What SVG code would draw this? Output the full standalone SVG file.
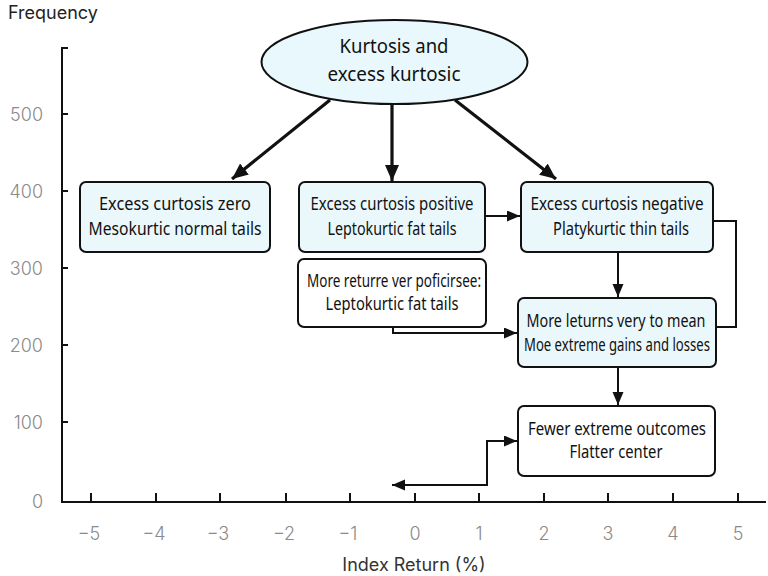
<svg xmlns="http://www.w3.org/2000/svg" width="768" height="576" viewBox="0 0 768 576">
<style>
.ax{stroke:#111;stroke-width:2;fill:none}
.tl{font-family:Inter,"Liberation Sans",sans-serif;font-size:18px;font-weight:300;fill:#8a8a8a}
.bx{stroke:#111;stroke-width:2}
.cy{fill:#eaf8fc}
.wh{fill:#ffffff}
.t{font-family:"Noto Sans","Open Sans","Liberation Sans",sans-serif;font-size:17.5px;fill:#111;text-anchor:middle}
.c1{stroke:#111;stroke-width:3.2;fill:none}
.c2{stroke:#111;stroke-width:2;fill:none}
</style>
<defs>
<marker id="ab" markerUnits="userSpaceOnUse" markerWidth="18" markerHeight="16" refX="16" refY="7" orient="auto">
<path d="M0,0 L16,7 L0,14 Z" fill="#111"/>
</marker>
<marker id="as" markerUnits="userSpaceOnUse" markerWidth="14" markerHeight="12" refX="13" refY="5.5" orient="auto-start-reverse">
<path d="M0,0 L13,5.5 L0,11 Z" fill="#111"/>
</marker>
</defs>
<rect width="768" height="576" fill="#ffffff"/>
<g id="axes">
<text x="8" y="19" style="font-family:Inter,'Liberation Sans',sans-serif;font-size:18px;fill:#222">Frequency</text>
<path class="ax" d="M68,48 H62 V502 H766"/>
<path class="ax" d="M62,114 h6 M62,191 h6 M62,268 h6 M62,345 h6 M62,422 h6"/>
<path class="ax" d="M91,502 v-9 M156,502 v-9 M220,502 v-9 M286,502 v-9 M350,502 v-9 M415,502 v-9 M479,502 v-9 M544,502 v-9 M608,502 v-9 M673,502 v-9 M738,502 v-9"/>
<g class="tl" text-anchor="end">
<text x="43" y="121">500</text>
<text x="43" y="198">400</text>
<text x="43" y="275">300</text>
<text x="43" y="352">200</text>
<text x="43" y="429">100</text>
<text x="43" y="508">0</text>
</g>
<g class="tl" text-anchor="middle">
<text x="89" y="540">−5</text>
<text x="154" y="540">−4</text>
<text x="218" y="540">−3</text>
<text x="284" y="540">−2</text>
<text x="348" y="540">−1</text>
<text x="415" y="540">0</text>
<text x="479" y="540">1</text>
<text x="544" y="540">2</text>
<text x="608" y="540">3</text>
<text x="673" y="540">4</text>
<text x="738" y="540">5</text>
</g>
<text x="414" y="571" text-anchor="middle" style="font-family:Inter,'Liberation Sans',sans-serif;font-size:18px;fill:#333">Index Return (%)</text>
</g>
<g id="connectors">
<line class="c1" x1="330" y1="100" x2="232" y2="179" marker-end="url(#ab)"/>
<line class="c1" x1="392" y1="104" x2="392" y2="181" marker-end="url(#ab)"/>
<line class="c1" x1="455" y1="100" x2="556" y2="179" marker-end="url(#ab)"/>
<line class="c2" x1="485" y1="216" x2="520" y2="216" marker-end="url(#as)"/>
<polyline class="c2" points="393,327 393,333 517,333" marker-end="url(#as)"/>
<line class="c2" x1="618" y1="252" x2="618" y2="297" marker-end="url(#as)"/>
<polyline class="c2" points="713,221 736,221 736,327 716,327"/>
<line class="c2" x1="618" y1="367" x2="618" y2="405" marker-end="url(#as)"/>
<polyline class="c2" points="392,485 487,485 487,441 517,441" marker-start="url(#as)" marker-end="url(#as)"/>
</g>
<g id="root">
<ellipse class="bx" cx="394.5" cy="62" rx="133" ry="42" fill="#e8f8fc"/>
<text class="t" x="394" y="53" style="font-size:19px" textLength="109" lengthAdjust="spacingAndGlyphs">Kurtosis and</text>
<text class="t" x="394" y="81" style="font-size:19px" textLength="133" lengthAdjust="spacingAndGlyphs">excess kurtosic</text>
</g>
<g id="zero">
<rect class="bx cy" x="80" y="182" width="190" height="70" rx="6"/>
<text class="t" x="175" y="210" textLength="152" lengthAdjust="spacingAndGlyphs">Excess curtosis zero</text>
<text class="t" x="175" y="235" textLength="173" lengthAdjust="spacingAndGlyphs">Mesokurtic normal tails</text>
</g>
<g id="positive">
<rect class="bx cy" x="299" y="182" width="186" height="70" rx="6"/>
<text class="t" x="392" y="210" textLength="163" lengthAdjust="spacingAndGlyphs">Excess curtosis positive</text>
<text class="t" x="392" y="235" textLength="129" lengthAdjust="spacingAndGlyphs">Leptokurtic fat tails</text>
</g>
<g id="more-returns">
<rect class="bx wh" x="298" y="259" width="188" height="68" rx="6"/>
<text class="t" x="394" y="287" textLength="174" lengthAdjust="spacingAndGlyphs">More returre ver poficirsee:</text>
<text class="t" x="392" y="310" textLength="133" lengthAdjust="spacingAndGlyphs">Leptokurtic fat tails</text>
</g>
<g id="negative">
<rect class="bx cy" x="521" y="182" width="192" height="70" rx="6"/>
<text class="t" x="617" y="210" textLength="173" lengthAdjust="spacingAndGlyphs">Excess curtosis negative</text>
<text class="t" x="621" y="235" textLength="136" lengthAdjust="spacingAndGlyphs">Platykurtic thin tails</text>
</g>
<g id="mean">
<rect class="bx cy" x="518" y="298" width="198" height="69" rx="6"/>
<text class="t" x="616" y="327" textLength="179" lengthAdjust="spacingAndGlyphs">More leturns very to mean</text>
<text class="t" x="617" y="351" textLength="186" lengthAdjust="spacingAndGlyphs">Moe extreme gains and losses</text>
</g>
<g id="fewer">
<rect class="bx wh" x="518" y="406" width="197" height="70" rx="6"/>
<text class="t" x="617" y="435" textLength="178" lengthAdjust="spacingAndGlyphs">Fewer extreme outcomes</text>
<text class="t" x="616" y="458" textLength="93" lengthAdjust="spacingAndGlyphs">Flatter center</text>
</g>
</svg>
